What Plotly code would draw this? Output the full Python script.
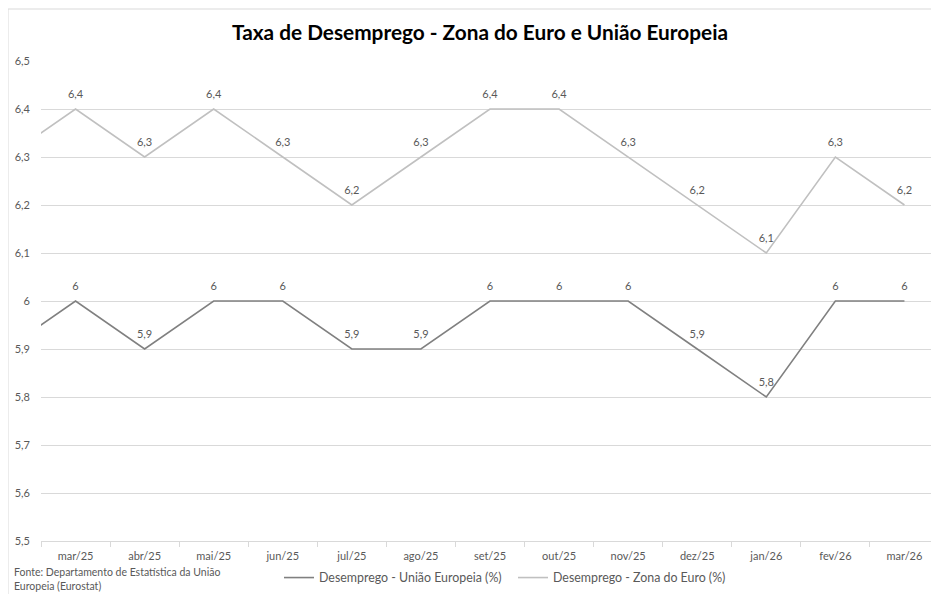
import plotly.graph_objects as go

# fev/25 is the point just before the visible window (line enters from left edge)
months = ["fev/25", "mar/25", "abr/25", "mai/25", "jun/25", "jul/25", "ago/25", "set/25",
          "out/25", "nov/25", "dez/25", "jan/26", "fev/26", "mar/26"]
ue = [5.9, 6.0, 5.9, 6.0, 6.0, 5.9, 5.9, 6.0, 6.0, 6.0, 5.9, 5.8, 6.0, 6.0]
zona_euro = [6.3, 6.4, 6.3, 6.4, 6.3, 6.2, 6.3, 6.4, 6.4, 6.3, 6.2, 6.1, 6.3, 6.2]

title = "Taxa de Desemprego - Zona do Euro e União Europeia"
source = "Fonte: Departamento de Estatística da União<br>Europeia (Eurostat)"
name_ue = "Desemprego - União Europeia (%)"
name_ze = "Desemprego - Zona do Euro (%)"


def labels(vals):
    # first point lies outside the visible window: no label
    return [""] + [f"{v:g}".replace(".", ",") for v in vals[1:]]


FONT = "Lato, 'Open Sans', sans-serif"
GRAY = "#595959"

# page is rendered with an 8px body margin: figure is sized/placed to compensate
W, H = 931, 586
L, T, B = 33, 53, 53
PW, PH = W - L, H - T - B

fig = go.Figure()
fig.add_trace(go.Scatter(
    x=months, y=ue, name=name_ue, mode="lines+markers+text",
    line=dict(color="#808080", width=1.6),
    marker=dict(size=12, color="rgba(0,0,0,0)"),
    text=labels(ue), textposition="top center",
    textfont=dict(size=11, color=GRAY, family=FONT),
))
fig.add_trace(go.Scatter(
    x=months, y=zona_euro, name=name_ze, mode="lines+markers+text",
    line=dict(color="#c0c0c0", width=1.6),
    marker=dict(size=12, color="rgba(0,0,0,0)"),
    text=labels(zona_euro), textposition="top center",
    textfont=dict(size=11, color=GRAY, family=FONT),
))

fig.update_layout(
    width=W, height=H,
    margin=dict(l=L, r=0, t=T, b=B),
    paper_bgcolor="white", plot_bgcolor="white",
    separators=",.",
    font=dict(family=FONT, color=GRAY, size=11),
    title=dict(text=f"<b>{title}</b>", x=472 / W, xanchor="center", y=1 - 25 / H,
               yanchor="middle", font=dict(size=20.8, color="#000000", family=FONT)),
    showlegend=True,
    legend=dict(orientation="h", x=(271 - L) / PW, xanchor="left", y=(PH - (570 - T)) / PH,
                yanchor="middle", font=dict(size=12.4, color=GRAY, family=FONT),
                bgcolor="rgba(0,0,0,0)", itemwidth=30, tracegroupgap=0,
                entrywidth=189, entrywidthmode="pixels"),
    xaxis=dict(type="category", range=[0.5, 13.5], tickson="boundaries",
               ticks="outside", ticklen=5, tickcolor="#d9d9d9",
               showline=True, linecolor="#d9d9d9", linewidth=1, ticklabelstandoff=5,
               showgrid=False, tickfont=dict(size=11, color=GRAY)),
    yaxis=dict(range=[5.5, 6.5], dtick=0.1, tick0=5.5, showgrid=True, gridcolor="#d9d9d9",
               gridwidth=1, zeroline=False, showline=False, ticks="", ticklabelstandoff=10,
               tickfont=dict(size=11, color=GRAY)),
    annotations=[dict(text=source, xref="paper", yref="paper", x=(4 - L) / PW,
                      y=(PH - (556 - T)) / PH,
                      xanchor="left", yanchor="top", align="left", showarrow=False,
                      font=dict(size=10.5, color=GRAY, family=FONT))],
    shapes=[dict(type="rect", xref="paper", yref="paper",
                 x0=(0 - L) / PW, x1=1.01, y0=-0.3, y1=(PH + T - 1) / PH,
                 line=dict(color="#d9d9d9", width=1), fillcolor="rgba(0,0,0,0)", layer="below")],
)

fig.write_html("out.html")
